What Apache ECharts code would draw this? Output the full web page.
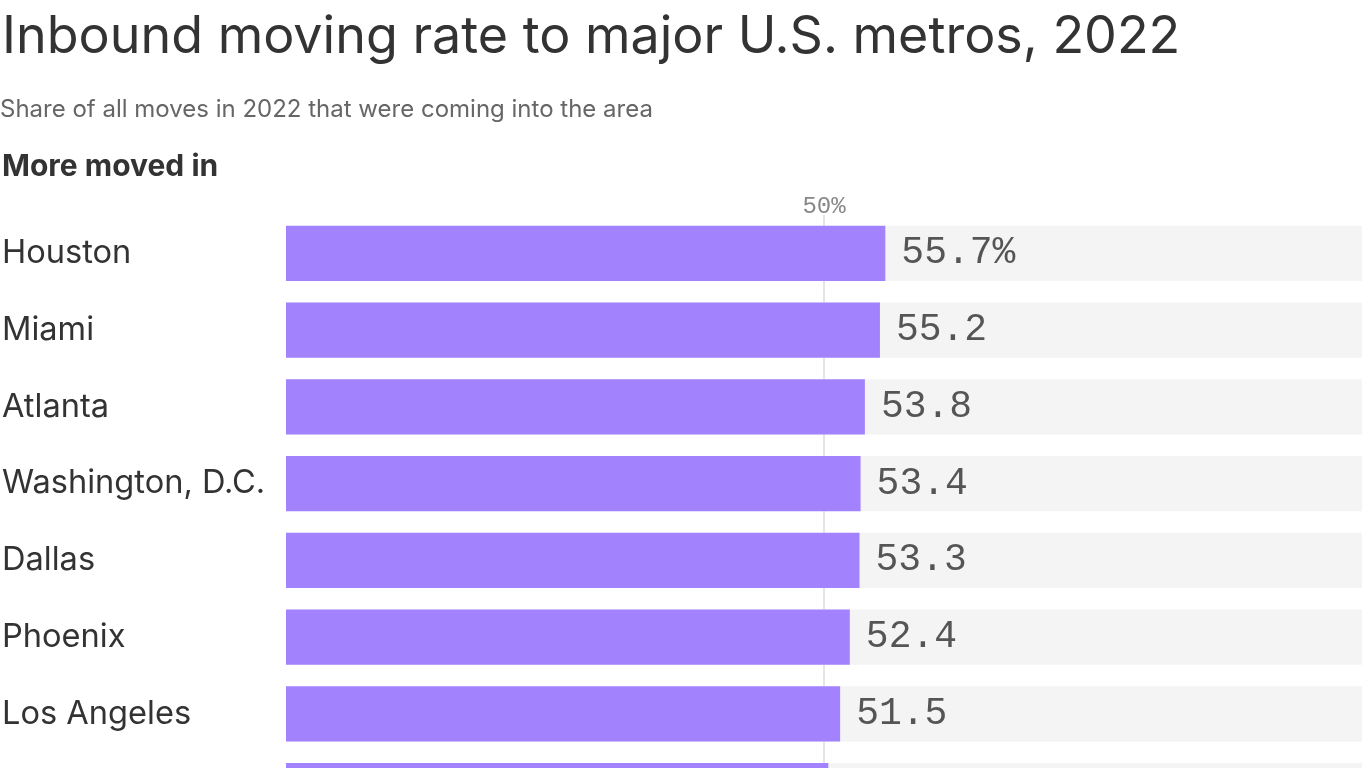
<!DOCTYPE html>
<html>
<head>
<meta charset="utf-8">
<script src="https://cdn.jsdelivr.net/npm/echarts@6/dist/echarts.min.js"></script>
<style>
html,body{margin:0;padding:0;background:#fff;overflow:hidden;}
#c{width:1366px;height:768px;}
</style>
</head>
<body>
<div id="c"></div>
<script>
const categories = ["Houston", "Miami", "Atlanta", "Washington, D.C.", "Dallas", "Phoenix", "Los Angeles", ""];
const values = [55.7, 55.2, 53.8, 53.4, 53.3, 52.4, 51.5, 50.4];
const tickLabels = ["50%"];
const titleText = "Inbound moving rate to major U.S. metros, 2022";
const subtitleText = "Share of all moves in 2022 that were coming into the area";
const sectionText = "More moved in";

const chart = echarts.init(document.getElementById('c'));
chart.setOption({
  backgroundColor: '#fff',
  animation: false,
  title: [
    {text: titleText, left: -3, top: 6, textStyle: {fontFamily: 'Inter', fontSize: 52, fontWeight: 'normal', color: '#333'}},
    {text: subtitleText, left: -5, top: 93, textStyle: {fontFamily: 'Inter', fontSize: 24, fontWeight: 'normal', color: '#666'}},
    {text: sectionText, left: -3, top: 147, textStyle: {fontFamily: 'Inter', fontSize: 30, fontWeight: 'bold', color: '#333'}}
  ],
  grid: {left: 286, right: 4, top: 215, height: 614, containLabel: false, outerBoundsMode: 'none'},
  xAxis: {
    type: 'value', position: 'top', min: 0, max: 100, interval: 50,
    axisLine: {show: false}, axisTick: {show: false},
    splitLine: {show: true, lineStyle: {color: ['rgba(0,0,0,0)', '#dddddd', 'rgba(0,0,0,0)'], width: 1.5}},
    axisLabel: {
      margin: -4, fontFamily: 'Liberation Mono', fontSize: 24, color: '#888',
      formatter: v => v === 50 ? tickLabels[0] : ''
    }
  },
  yAxis: {
    type: 'category', data: categories, inverse: true,
    axisLine: {show: false}, axisTick: {show: false},
    axisLabel: {align: 'left', margin: 284, fontFamily: 'Inter', fontSize: 32.6, color: '#333'}
  },
  series: [{
    type: 'bar', data: values, barCategoryGap: '28%',
    itemStyle: {color: '#a283fd'},
    showBackground: true,
    backgroundStyle: {color: '#f4f4f4'},
    label: {
      show: true, position: 'right', distance: 16,
      fontFamily: 'Liberation Mono', fontSize: 38, color: '#555',
      formatter: p => p.dataIndex === 0 ? p.value.toFixed(1) + '%' : p.value.toFixed(1)
    }
  }]
});
</script>
</body>
</html>
